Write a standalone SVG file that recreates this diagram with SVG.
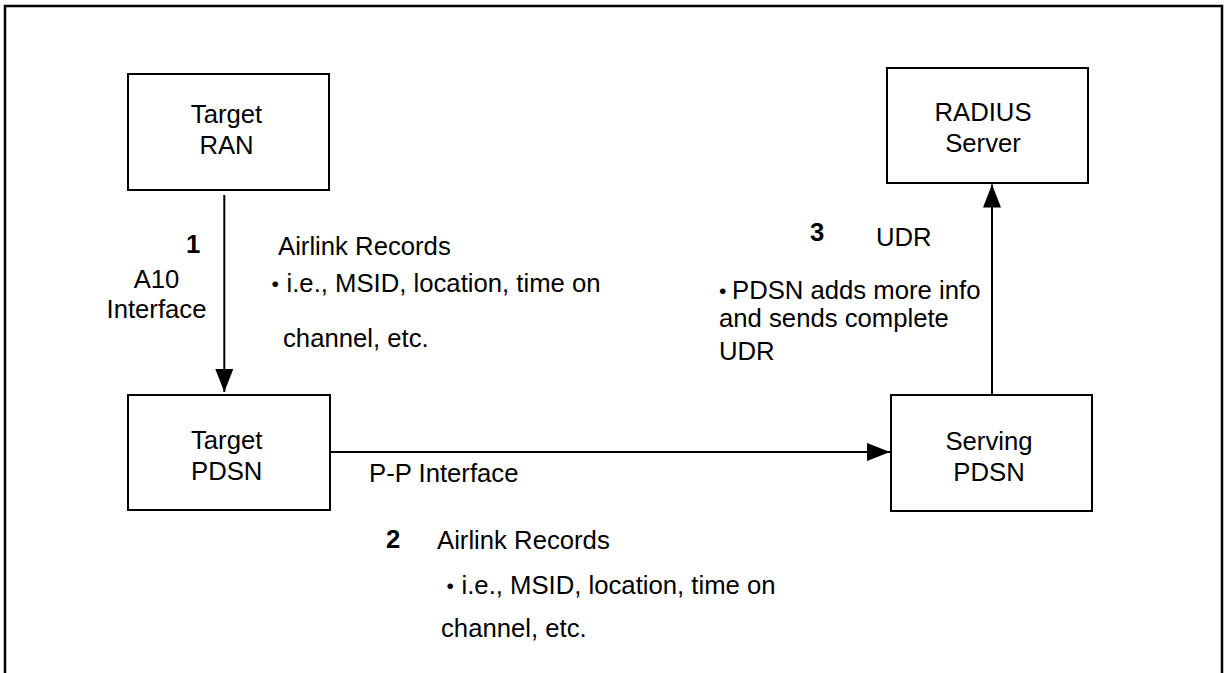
<svg xmlns="http://www.w3.org/2000/svg" width="1226" height="673" viewBox="0 0 1226 673">
  <style>
    .box { fill: #ffffff; stroke: #000000; stroke-width: 2; }
    .lbl { font-family: "Liberation Sans", Arial, sans-serif; font-size: 25.7px; fill: #000000; }
    .mid { text-anchor: middle; }
    .num { font-weight: bold; }
    .dot { font-size: 21px; }
    .wire { fill: none; stroke: #000000; stroke-width: 2; }
  </style>
  <defs>
    <marker id="arrow" markerUnits="userSpaceOnUse" markerWidth="24" markerHeight="18" refX="23" refY="9" orient="auto">
      <path d="M0,0 L23,9 L0,18 Z" fill="#000000"/>
    </marker>
  </defs>

  <rect width="1226" height="673" fill="#ffffff"/>

  <!-- outer frame (open at the bottom) -->
  <path d="M5,673 V6 H1222 V673" fill="none" stroke="#000000" stroke-width="2.5"/>

  <!-- nodes -->
  <g id="target-ran">
    <rect class="box" x="128" y="74" width="201" height="116"/>
    <text class="lbl mid" x="226.5" y="122.5">Target</text>
    <text class="lbl mid" x="226.5" y="153.5">RAN</text>
  </g>
  <g id="target-pdsn">
    <rect class="box" x="128" y="395" width="202" height="115"/>
    <text class="lbl mid" x="226.7" y="448.5">Target</text>
    <text class="lbl mid" x="226.7" y="479.5">PDSN</text>
  </g>
  <g id="serving-pdsn">
    <rect class="box" x="891" y="395" width="201" height="116"/>
    <text class="lbl mid" x="989" y="450">Serving</text>
    <text class="lbl mid" x="989" y="480.5">PDSN</text>
  </g>
  <g id="radius-server">
    <rect class="box" x="887" y="68" width="201" height="115"/>
    <text class="lbl mid" x="983" y="121">RADIUS</text>
    <text class="lbl mid" x="983" y="152">Server</text>
  </g>

  <!-- connectors -->
  <g id="connectors">
    <line class="wire" x1="224.3" y1="195" x2="224.3" y2="392" marker-end="url(#arrow)"/>
    <line class="wire" x1="331" y1="452" x2="890" y2="452" marker-end="url(#arrow)"/>
    <line class="wire" x1="992" y1="395" x2="992" y2="184.5" marker-end="url(#arrow)"/>
  </g>

  <!-- step 1: A10 interface -->
  <g id="step-1">
    <text class="lbl num" x="186" y="253">1</text>
    <text class="lbl mid" x="156.5" y="288">A10</text>
    <text class="lbl mid" x="156.5" y="318">Interface</text>
    <text class="lbl" x="278" y="255">Airlink Records</text>
    <text class="lbl" y="292"><tspan class="dot" x="271.5" dy="-1">•</tspan><tspan x="286.5" dy="1">i.e., MSID, location, time on</tspan></text>
    <text class="lbl" x="283" y="346.5">channel, etc.</text>
  </g>

  <!-- step 2: P-P interface -->
  <g id="step-2">
    <text class="lbl" x="369" y="482">P-P Interface</text>
    <text class="lbl num" x="386" y="548">2</text>
    <text class="lbl" x="437" y="549">Airlink Records</text>
    <text class="lbl" y="594"><tspan class="dot" x="446.5" dy="-1">•</tspan><tspan x="461.5" dy="1">i.e., MSID, location, time on</tspan></text>
    <text class="lbl" x="441" y="637">channel, etc.</text>
  </g>

  <!-- step 3: UDR to RADIUS -->
  <g id="step-3">
    <text class="lbl num" x="810" y="241">3</text>
    <text class="lbl" x="876" y="246">UDR</text>
    <text class="lbl" y="298.5"><tspan class="dot" x="719" dy="-1">•</tspan><tspan x="732" dy="1">PDSN adds more info</tspan></text>
    <text class="lbl" x="719" y="327">and sends complete</text>
    <text class="lbl" x="719" y="360">UDR</text>
  </g>
</svg>
